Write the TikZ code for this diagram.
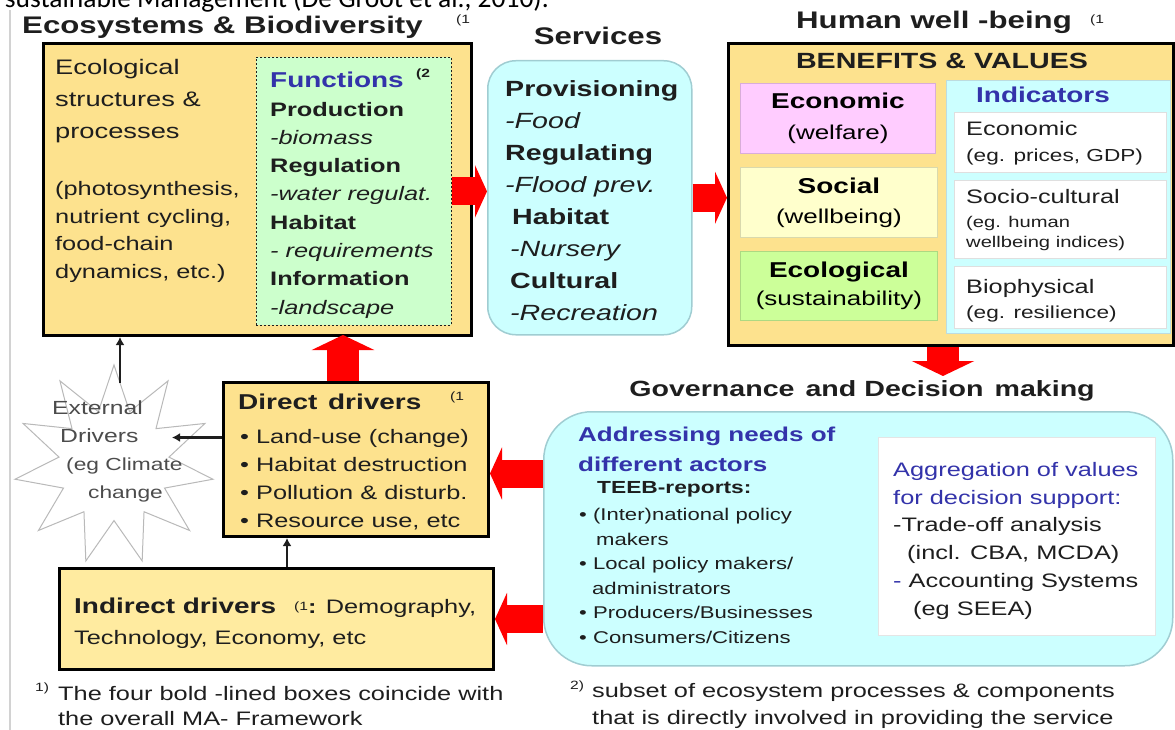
\documentclass[tikz,border=0pt]{standalone}
\usepackage{fontspec}
\setmainfont[FakeStretch=1.3]{Liberation Sans}
\newfontfamily\capfont{Carlito}
\usetikzlibrary{shapes.geometric,arrows.meta}

\definecolor{boxyellow}{RGB}{253,226,142}
\definecolor{paleyellow}{RGB}{255,235,160}
\definecolor{fungreen}{RGB}{204,255,204}
\definecolor{paleblue}{RGB}{204,255,255}
\definecolor{cyanline}{RGB}{160,205,210}
\definecolor{econpink}{RGB}{255,204,255}
\definecolor{socialcream}{RGB}{255,255,204}
\definecolor{ecolgreen}{RGB}{204,255,153}
\definecolor{headblue}{RGB}{51,51,170}
\definecolor{inkgray}{RGB}{30,30,30}

\newcommand{\sz}[2]{\fontsize{#1}{#2}\selectfont}

\begin{document}
\begin{tikzpicture}[x=1pt,y=-1pt]
    \tikzstyle{boldbox}=[draw=black,line width=3pt,fill=boxyellow,inner sep=0pt,anchor=north west]
    \tikzstyle{roundbox}=[draw=cyanline,line width=1.5pt,fill=paleblue,inner sep=0pt,anchor=north west]
    \tikzstyle{flatbox}=[inner sep=0pt,anchor=north west,line width=.8pt]
    \tikzstyle{txt}=[inner sep=0pt,text=inkgray,align=left]
    \tikzstyle{fat}=[draw=red,line width=28pt,-{Triangle[length=12pt,width=52pt]}]
    \tikzstyle{fatter}=[draw=red,line width=32pt,-{Triangle[length=15pt,width=62pt]}]
    \tikzstyle{thinarrow}=[draw=inkgray,line width=2.5pt,-{Latex[length=8pt,width=9pt]}]

        \useasboundingbox (0,0) rectangle (1175,730);
        \clip (0,0) rectangle (1175,730);

        % caption line, cut off by the top edge
        \node[txt,anchor=base east,text=black,font=\capfont\sz{27.5}{27.5}] (src) at (549,8) {sustainable Management (De Groot et al., 2010).};
        \draw[gray!35,line width=2pt] (10,10) -- (10,730);

        % column titles
        \node[txt,anchor=west,font=\sz{24}{24}\bfseries] (t-eco) at (22,27) {Ecosystems \& Biodiversity};
        \node[txt,anchor=west,font=\sz{12}{12}] (n-eco) at (456,20) {(1};
        \node[txt,font=\sz{24}{24}\bfseries] (t-serv) at (598,36) {Services};
        \node[txt,anchor=west,font=\sz{24}{24}\bfseries] (t-hwb) at (796,22) {Human well -being};
        \node[txt,anchor=west,font=\sz{12}{12}] (n-hwb) at (1090,20) {(1};

        % ecosystems
        \node[boldbox,minimum width=428pt,minimum height=292pt] (eco) at (42,42) {};
        \node[txt,anchor=north west,font=\sz{21}{32}] (eco-a) at (55,59) {Ecological\\structures \&\\processes};
        \node[txt,anchor=north west,font=\sz{19.5}{27.7}] (eco-b) at (55,181) {(photosynthesis,\\nutrient cycling,\\food-chain\\dynamics, etc.)};
        \node[flatbox,fill=fungreen,draw=inkgray,dash pattern=on 2pt off 2pt,minimum width=195pt,minimum height=268pt] (func) at (256,57) {};
        \node[txt,anchor=north west,font=\sz{19.5}{28.3}] (func-t) at (270,72) {{\sz{21.5}{28.3}\bfseries\color{headblue}Functions}\\\textbf{Production}\\\textit{-biomass}\\\textbf{Regulation}\\\textit{-water regulat.}\\\textbf{Habitat}\\\textit{- requirements}\\\textbf{Information}\\\textit{-landscape}};
        \node[txt,anchor=west,font=\sz{12}{12}\bfseries] (n-func) at (416,74) {(2};

        % services
        \node[roundbox,rounded corners=28pt,minimum width=204pt,minimum height=274pt] (serv) at (487,60) {};
        \node[txt,anchor=north west,font=\sz{22}{32.1}] (serv-t) at (505,80) {\textbf{Provisioning}\\\textit{-Food}\\\textbf{Regulating}\\\textit{-Flood prev.}\\\hspace*{7pt}\textbf{Habitat}\\\hspace*{5pt}\textit{-Nursery}\\\hspace*{5pt}\textbf{Cultural}\\\hspace*{5pt}\textit{-Recreation}};

        % human well-being
        \node[boldbox,minimum width=445pt,minimum height=302pt] (hwb) at (727,42) {};
        \node[txt,font=\sz{22}{22}\bfseries] (benef) at (942,61) {BENEFITS \& VALUES};
        \node[flatbox,fill=econpink,draw=econpink!85!black,minimum width=195pt,minimum height=70pt,align=center,font=\sz{20}{31}] (econ) at (740,83) {{\sz{21.5}{31}\bfseries Economic}\\(welfare)};
        \node[flatbox,fill=socialcream,draw=socialcream!85!black,minimum width=197pt,minimum height=70pt,align=center,font=\sz{20}{30}] (social) at (740,167) {{\sz{21.5}{30}\bfseries Social}\\(wellbeing)};
        \node[flatbox,fill=ecolgreen,draw=ecolgreen!85!black,minimum width=197pt,minimum height=69pt,align=center,font=\sz{20}{28}] (ecol) at (740,251) {{\sz{21.5}{28}\bfseries Ecological}\\(sustainability)};
        \node[flatbox,fill=paleblue,draw=cyanline!70,minimum width=224pt,minimum height=253pt] (indic) at (946,80) {};
        \node[txt,text=headblue,font=\sz{21.5}{21.5}\bfseries] (indic-t) at (1043,95) {Indicators};
        \node[flatbox,fill=white,draw=gray!25,minimum width=212pt,minimum height=60pt] (ind-eco) at (954,112) {};
        \node[flatbox,fill=white,draw=gray!25,minimum width=212pt,minimum height=78pt] (ind-soc) at (954,180) {};
        \node[flatbox,fill=white,draw=gray!25,minimum width=212pt,minimum height=62pt] (ind-bio) at (954,266) {};
        \node[txt,anchor=west,font=\sz{19.5}{19.5}] (ie-a) at (966,129) {Economic};
        \node[txt,anchor=west,font=\sz{17.4}{17.4}] (ie-b) at (966,157) {(eg. prices, GDP)};
        \node[txt,anchor=west,font=\sz{19.5}{19.5}] (is-a) at (966,197) {Socio-cultural};
        \node[txt,anchor=north west,font=\sz{15.5}{20}] (is-b) at (966,216) {(eg. human\\wellbeing indices)};
        \node[txt,anchor=west,font=\sz{19.5}{19.5}] (ib-a) at (966,288) {Biophysical};
        \node[txt,anchor=west,font=\sz{17.4}{17.4}] (ib-b) at (966,314) {(eg. resilience)};

        % governance
        \node[txt,font=\sz{22}{22}\bfseries] (govtitle) at (862,391) {Governance\enspace and Decision\enspace making};
        \node[roundbox,rounded corners=48pt,minimum width=629pt,minimum height=254pt] (gov) at (543,411) {};
        \node[txt,anchor=north west,text=headblue,font=\sz{20}{30}\bfseries] (gov-a) at (578,427) {Addressing needs of\\different actors};
        \node[txt,anchor=west,font=\sz{17.5}{17.5}\bfseries] (teeb) at (597,489) {TEEB-reports:};
        \node[txt,anchor=north west,font=\sz{17}{24.6}] (gov-b) at (579,508) {• (Inter)national policy\\\hspace*{17pt}makers\\• Local policy makers/\\\hspace*{13pt}administrators\\• Producers/Businesses\\• Consumers/Citizens};
        \node[flatbox,fill=white,draw=gray!20,minimum width=277pt,minimum height=198pt] (aggr) at (878,437) {};
        \node[txt,anchor=north west,font=\sz{19.5}{27.8}] (aggr-t) at (893,462) {{\color{headblue}Aggregation of values}\\{\color{headblue}for decision support:}\\-Trade-off analysis\\\hspace*{14pt}(incl. CBA, MCDA)\\{\color{headblue}-} Accounting Systems\\\hspace*{20pt}(eg SEEA)};

        % drivers
        \node[star,star points=11,star point ratio=1.8,draw=gray!55,line width=1pt,fill=white,minimum size=200pt,inner sep=0pt] (ext) at (114,465) {};
        \node[txt,anchor=north west,text=black!70,font=\sz{19}{28}] (ext-t) at (52,401) {External\\\hspace*{8pt}Drivers\\\hspace*{14pt}{\sz{17.5}{28}(eg Climate}\\\hspace*{36pt}{\sz{17.5}{28}change}};
        \node[boldbox,minimum width=265pt,minimum height=154pt] (direct) at (222,381) {};
        \node[txt,anchor=west,font=\sz{21.5}{21.5}\bfseries] (direct-t) at (238,402) {Direct\enspace drivers};
        \node[txt,anchor=west,font=\sz{12}{12}] (n-direct) at (450,397) {(1};
        \node[txt,anchor=north west,font=\sz{19.5}{28}] (direct-b) at (240,429) {• Land-use (change)\\• Habitat destruction\\• Pollution \& disturb.\\• Resource use, etc};
        \node[boldbox,fill=paleyellow,minimum width=434pt,minimum height=101pt] (indirect) at (58,567) {};
        \node[txt,anchor=north west,font=\sz{19.5}{31}] (indirect-t) at (74,598) {{\sz{21.5}{31}\bfseries Indirect drivers}\hspace{18pt}\raisebox{3pt}{\sz{12}{12}(1}\textbf{:} Demography,\\Technology, Economy, etc};

        % footnotes
        \node[txt,anchor=west,font=\sz{12}{12}] (fn-1) at (35,688) {1)};
        \node[txt,anchor=north west,font=\sz{19.5}{25}] (fn-a) at (58,686) {The four bold -lined boxes coincide with\\the overall MA- Framework};
        \node[txt,anchor=west,font=\sz{12}{12}] (fn-2) at (570,686) {2)};
        \node[txt,anchor=north west,font=\sz{19.5}{27}] (fn-b) at (592,683) {subset of ecosystem processes \& components\\that is directly involved in providing the service};

        % red flows
        \draw[fat] (func.east) -- (func.east -| serv.west);
        \draw[fat] (serv.east) -- (serv.east -| hwb.west);
        \draw[fatter] ([xshift=-8pt]hwb.south) -- ++(0,29);
        \coordinate (dd) at ([yshift=-14pt]direct.east);
        \draw[fat] (gov.west |- dd) -- (dd);
        \draw[fat] (gov.west |- indirect.east) -- (indirect.east);
        \draw[fatter] ([xshift=-13pt]direct.north) -- ++(0,-46);

        % thin links
        \coordinate (exttop) at (120,383);
        \coordinate (upx) at (287,0);
        \draw[thinarrow] ([yshift=22pt]direct.west) -- ++(-50,0);
        \draw[thinarrow] (exttop) -- (exttop |- eco.south);
        \draw[thinarrow] (indirect.north -| upx) -- (direct.south -| upx);
\end{tikzpicture}
\end{document}
